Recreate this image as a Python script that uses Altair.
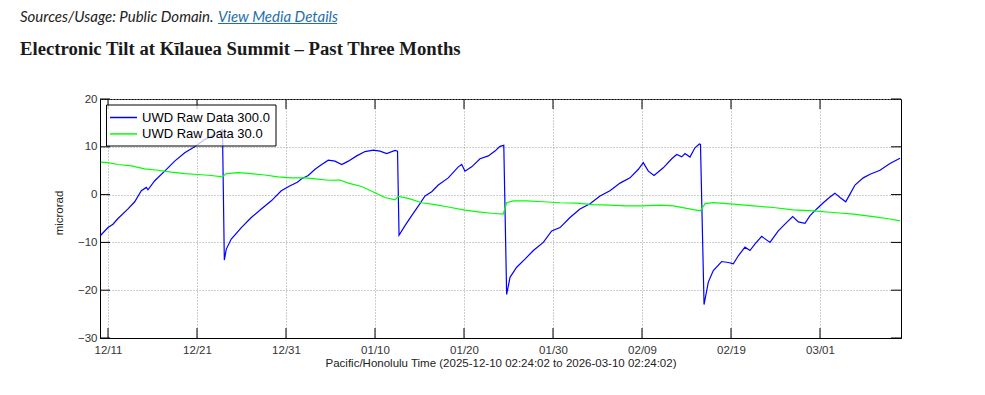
import altair as alt
import pandas as pd

START = "2025-12-10 02:24:02"

# day offsets from START and tilt values (microrad)
blue_days = [0.08, 0.9, 1.46, 2.02, 3.15, 3.9, 4.64, 5.2, 5.39, 6.15,
             7.27, 8.39, 9.52, 10.64, 11.76, 12.89, 13.76, 13.97, 14.19, 14.75,
             15.88, 17.0, 18.12, 19.25, 20.37, 21.31, 22.17, 22.66, 23.4, 24.16,
             24.91, 25.65, 26.4, 27.16, 27.9, 28.84, 29.78, 30.71, 31.46, 32.21,
             33.15, 33.43, 33.6, 34.27, 35.02, 35.76, 36.52, 37.27, 38.01, 39.13,
             40.26, 40.64, 41.01, 41.76, 42.7, 43.63, 44.38, 44.94, 45.37, 45.69,
             46.07, 46.82, 47.75, 48.69, 49.81, 50.75, 51.69, 52.81, 53.93, 55.06,
             56.18, 57.3, 58.43, 59.55, 60.49, 61.04, 61.61, 62.25, 63.29, 64.24,
             64.8, 65.36, 65.73, 66.29, 66.85, 67.34, 67.47, 67.87, 68.35, 68.91,
             69.85, 70.6, 71.16, 71.72, 72.47, 73.03, 73.6, 74.35, 75.28, 76.21,
             77.16, 77.83, 78.46, 79.21, 79.78, 80.53, 81.27, 82.02, 82.58, 83.15,
             83.79, 84.27, 84.83, 85.76, 86.52, 87.64, 88.76, 89.89]
blue_vals = [-8.5, -6.9, -6.2, -5.0, -3.0, -1.5, 0.8, 1.5, 1.0, 2.9,
             4.9, 7.0, 8.75, 10.0, 11.5, 12.6, 13.6, -13.7, -11.4, -9.3,
             -6.9, -4.8, -3.0, -1.3, 0.8, 1.8, 2.6, 3.3, 4.0, 5.3,
             6.3, 7.2, 7.0, 6.3, 7.0, 8.1, 9.0, 9.3, 9.1, 8.6,
             9.25, 9.1, -8.5, -6.5, -4.4, -2.4, -0.3, 0.6, 2.0, 3.5,
             5.8, 6.3, 4.9, 5.8, 7.5, 8.1, 9.1, 10.1, 10.3, -20.9,
             -17.3, -15.2, -13.5, -11.7, -10.0, -7.6, -6.9, -4.8, -3.0, -1.9,
             -0.3, 0.8, 2.4, 3.5, 5.3, 6.7, 4.9, 4.0, 5.6, 7.5,
             8.4, 7.9, 8.6, 7.85, 9.8, 10.6, 10.5, -23.0, -18.3, -15.9,
             -14.0, -14.2, -14.5, -12.8, -11.0, -11.7, -10.3, -8.75, -10.0, -7.6,
             -5.8, -4.6, -5.7, -6.0, -4.4, -3.0, -1.7, -0.5, 0.3, -0.6,
             -1.5, 0.1, 2.0, 3.5, 4.25, 5.1, 6.5, 7.6]

green_days = [0.08, 0.9, 2.02, 3.52, 5.02, 6.52, 8.01, 9.52, 11.01, 12.51,
              13.74, 14.19, 15.51, 17.0, 18.51, 20.0, 21.49, 23.03, 24.16, 25.65,
              26.97, 27.9, 29.4, 30.9, 32.02, 33.15, 33.52, 34.64, 36.15, 37.64,
              39.13, 41.01, 42.5, 44.01, 45.31, 45.69, 46.43, 47.94, 49.81, 51.69,
              53.56, 55.43, 57.3, 59.18, 61.04, 62.92, 64.42, 65.92, 67.45, 68.0,
              68.91, 71.16, 73.4, 75.65, 77.9, 80.15, 82.4, 84.64, 86.89, 88.76,
              89.89]
green_vals = [6.8, 6.7, 6.3, 6.0, 5.4, 5.1, 4.7, 4.4, 4.2, 4.0,
              3.7, 4.4, 4.6, 4.4, 4.1, 3.7, 3.5, 3.5, 3.3, 3.0,
              3.05, 2.4, 1.7, 0.4, -0.6, -1.1, -0.4, -0.8, -1.7, -2.1,
              -2.6, -3.25, -3.6, -3.9, -4.1, -1.7, -1.3, -1.3, -1.5, -1.7,
              -1.8, -2.1, -2.2, -2.35, -2.35, -2.2, -2.35, -2.9, -3.4, -1.9,
              -1.7, -2.0, -2.35, -2.7, -3.2, -3.4, -3.75, -4.1, -4.6, -5.1,
              -5.5]

series_names = ["UWD Raw Data 300.0", "UWD Raw Data 30.0"]
series_colors = ["#0000ff", "#00ff00"]

x_tick_dates = ["2025-12-11", "2025-12-21", "2025-12-31", "2026-01-10", "2026-01-20",
                "2026-01-30", "2026-02-09", "2026-02-19", "2026-03-01"]
y_tick_vals = [-30, -20, -10, 0, 10, 20]

x_title = "Pacific/Honolulu Time (2025-12-10 02:24:02 to 2026-03-10 02:24:02)"
y_title = "microrad"
header_text = "Sources/Usage: Public Domain."
link_text = "View Media Details"
main_title = "Electronic Tilt at Kīlauea Summit – Past Three Months"

t0 = pd.Timestamp(START)


def stamps(days):
    return [(t0 + pd.Timedelta(days=d)).strftime("%Y-%m-%dT%H:%M:%S") for d in days]


df = pd.concat([
    pd.DataFrame({"time": stamps(blue_days), "value": blue_vals, "series": series_names[0]}),
    pd.DataFrame({"time": stamps(green_days), "value": green_vals, "series": series_names[1]}),
])

xt = pd.DataFrame({"time": [d + "T00:00:00" for d in x_tick_dates]})
yt = pd.DataFrame({"value": y_tick_vals})
one = pd.DataFrame({"k": [0]})


def dt(s):
    ts = pd.Timestamp(s)
    return alt.DateTime(year=ts.year, month=ts.month, date=ts.day,
                        hours=ts.hour, minutes=ts.minute, seconds=ts.second)


W, H = 801, 239
AX_FONT = "Liberation Sans"

x_enc = alt.X(
    "time:T",
    scale=alt.Scale(domain=[dt(START), dt("2026-03-10 02:24:02")]),
    axis=alt.Axis(values=[dt(d) for d in x_tick_dates], format="%m/%d", title=x_title,
                  ticks=False, grid=True, gridDash=[1, 2], gridColor="#9a9a9a",
                  gridOpacity=1, labelPadding=6, labelFont=AX_FONT, labelFontSize=11.5,
                  labelColor="#333", titleFont=AX_FONT, titleFontSize=11.5,
                  titleFontWeight="normal", titleColor="#222", titleY=28,
                  titleBaseline="alphabetic", domainColor="#000", labelFlush=False,
                  labelOverlap=False),
)
y_enc = alt.Y(
    "value:Q",
    scale=alt.Scale(domain=[-30, 20], nice=False, zero=False),
    axis=alt.Axis(values=y_tick_vals, title=y_title, ticks=False, grid=True,
                  gridDash=[1, 2], gridColor="#9a9a9a", gridOpacity=1, labelPadding=3,
                  labelFont=AX_FONT, labelFontSize=11.5, labelColor="#333",
                  titleFont=AX_FONT, titleFontSize=11.5, titleFontWeight="normal",
                  titleColor="#222", titleX=-37.5, titleY=113.5,
                  titleBaseline="alphabetic", titleAlign="center", domainColor="#000",
                  labelFlush=False, labelOverlap=False),
)

lines = alt.Chart(df).mark_line(strokeWidth=1.2, interpolate="linear").encode(
    x=x_enc, y=y_enc,
    color=alt.Color("series:N", scale=alt.Scale(domain=series_names, range=series_colors),
                    legend=None),
    order=alt.Order("time:T"),
)

tick_x_bot = alt.Chart(xt).mark_rule(color="#000", strokeWidth=1).encode(
    x="time:T", y=alt.value(H), y2=alt.value(H - 10))
tick_x_top = alt.Chart(xt).mark_rule(color="#000", strokeWidth=1).encode(
    x="time:T", y=alt.value(0), y2=alt.value(10))
tick_y_left = alt.Chart(yt).mark_rule(color="#000", strokeWidth=1).encode(
    y="value:Q", x=alt.value(0), x2=alt.value(10))
tick_y_right = alt.Chart(yt).mark_rule(color="#000", strokeWidth=1).encode(
    y="value:Q", x=alt.value(W - 10), x2=alt.value(W))

leg_box = alt.Chart(one).mark_rect(fill="white", fillOpacity=0.75, stroke="#000",
                                   strokeWidth=1).encode(
    x=alt.value(6.5), x2=alt.value(176), y=alt.value(6), y2=alt.value(47))

legend_layers = []
for i, (name, col) in enumerate(zip(series_names, series_colors)):
    yy = 18.5 + i * 16.4
    legend_layers.append(alt.Chart(one).mark_rule(color=col, strokeWidth=1.5).encode(
        x=alt.value(10), x2=alt.value(37), y=alt.value(yy)))
    legend_layers.append(alt.Chart(one).mark_text(
        align="left", baseline="middle", font=AX_FONT, fontSize=13, color="#000").encode(
        x=alt.value(42), y=alt.value(yy), text=alt.value(name)))

header = alt.Chart(one).mark_text(
    align="left", baseline="alphabetic", font="Lato", fontStyle="italic", fontSize=15,
    color="#222").encode(x=alt.value(-80), y=alt.value(-77), text=alt.value(header_text))
link = alt.Chart(one).mark_text(
    align="left", baseline="alphabetic", font="Lato", fontStyle="italic", fontSize=15,
    color="#1f6fae").encode(x=alt.value(118), y=alt.value(-77), text=alt.value(link_text))
link_line = alt.Chart(one).mark_rule(color="#1f6fae", strokeWidth=1).encode(
    x=alt.value(118), x2=alt.value(237), y=alt.value(-75.5), )
title = alt.Chart(one).mark_text(
    align="left", baseline="alphabetic", font="Liberation Serif", fontWeight="bold",
    fontSize=18.7, color="#1a1a1a").encode(
    x=alt.value(-80), y=alt.value(-44), text=alt.value(main_title))

chart = alt.layer(
    lines, tick_x_bot, tick_x_top, tick_y_left, tick_y_right, leg_box, *legend_layers,
    header, link, link_line, title,
).properties(
    width=W, height=H,
    autosize=alt.AutoSizeParams(type="none"),
    padding={"left": 92, "top": 91, "right": 70, "bottom": 48},
    background="white",
).configure_view(stroke="#000", strokeWidth=1)

chart.save("out.html", embed_options={"renderer": "svg", "actions": False})
